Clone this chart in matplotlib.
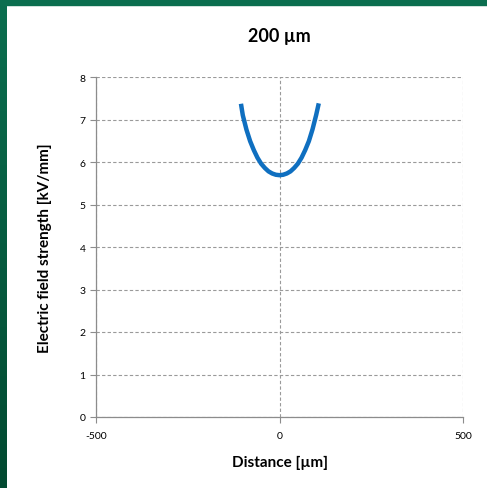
import matplotlib.pyplot as plt
import numpy as np
from matplotlib.patches import Rectangle

# data
distance = [-105, -100, -90, -80, -70, -60, -50, -40, -30, -20, -10, 0,
            10, 20, 30, 40, 50, 60, 70, 80, 90, 100, 107]
field = [7.37, 7.10, 6.76, 6.49, 6.28, 6.10, 5.96, 5.86, 5.78, 5.73, 5.70, 5.69,
         5.70, 5.73, 5.78, 5.86, 5.96, 6.10, 6.28, 6.49, 6.77, 7.11, 7.38]
x_ticks = [-500, 0, 500]
y_ticks = [0, 1, 2, 3, 4, 5, 6, 7, 8]

plt.rcParams['font.family'] = ['Lato', 'DejaVu Sans']
plt.rcParams['axes.unicode_minus'] = False

fig = plt.figure(figsize=(4.87, 4.89), dpi=100)
fig.patch.set_facecolor('white')

# green slide border (top and left)
fig.patches.append(Rectangle((0, 1 - 6 / 489), 1, 6 / 489, transform=fig.transFigure,
                             color='#0b6e4f', zorder=0))
grad = fig.add_axes([0, 0, 7 / 487, 1])
grad.imshow(np.linspace(0, 1, 100).reshape(-1, 1), aspect='auto',
            cmap=plt.matplotlib.colors.LinearSegmentedColormap.from_list('g', ['#0b6e4f', '#024a31']),
            extent=[0, 1, 0, 1])
grad.axis('off')

ax = fig.add_axes([96 / 487, 71 / 489, 367 / 487, 340 / 489])
ax.plot(distance, field, color='#0f6fc0', linewidth=3.2, solid_capstyle='butt', zorder=3)

ax.set_xlim(-500, 500)
ax.set_ylim(0, 8)
ax.set_xticks(x_ticks)
ax.set_yticks(y_ticks)
ax.grid(True, linestyle=(0, (3, 2)), color='#9a9a9a', linewidth=0.8)
ax.set_axisbelow(True)

for s in ['top', 'right']:
    ax.spines[s].set_visible(False)
for s in ['left', 'bottom']:
    ax.spines[s].set_color('#8c8c8c')
    ax.spines[s].set_linewidth(0.9)

ax.tick_params(axis='both', length=4, width=0.8, color='#8c8c8c', labelsize=7.5)
ax.tick_params(axis='x', pad=6)

ax.set_title('200 µm', fontsize=13, fontweight='bold', pad=26)
ax.set_xlabel('Distance [µm]', fontsize=11, fontweight='bold', labelpad=11)
ax.set_ylabel('Electric field strength [kV/mm]', fontsize=11, fontweight='bold', labelpad=20)

plt.savefig('out.png', dpi=100)
